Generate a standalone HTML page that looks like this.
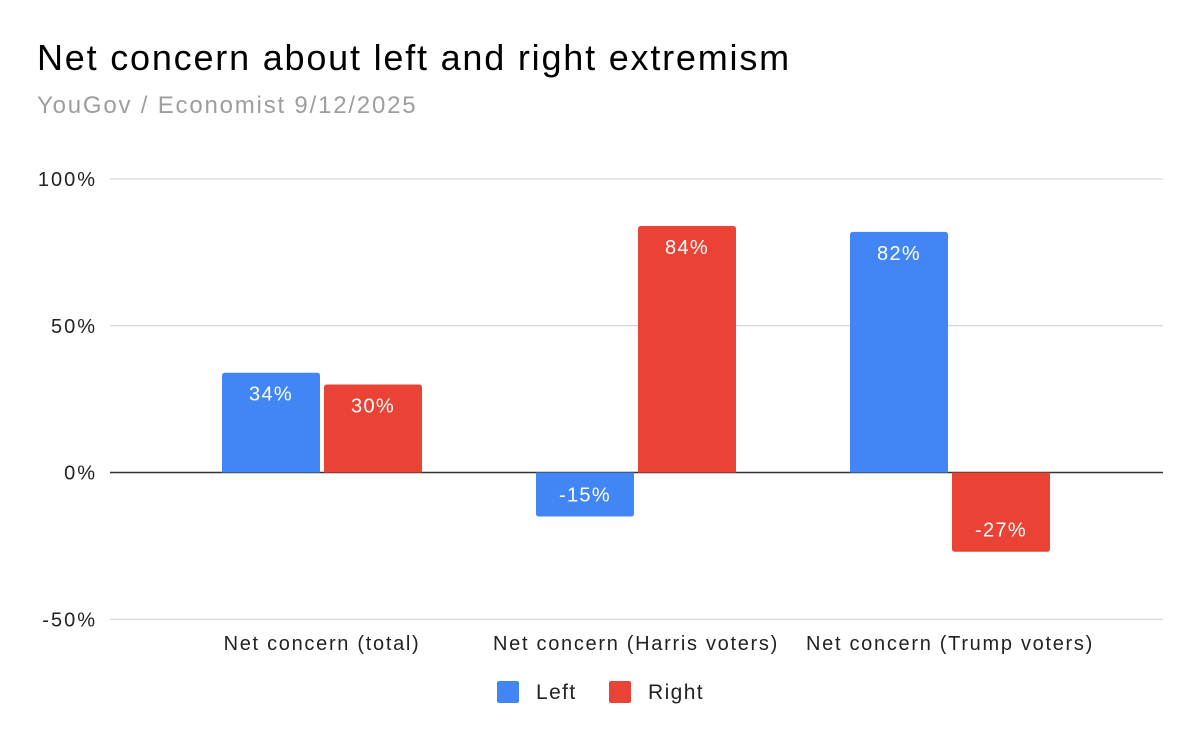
<!DOCTYPE html>
<html><head><meta charset="utf-8"><style>
html,body{margin:0;padding:0;background:#fff;}
svg{display:block;font-family:"Liberation Sans",Arial,sans-serif;}
</style></head><body>
<svg id="chart" width="1200" height="742" xmlns="http://www.w3.org/2000/svg">
<rect width="1200" height="742" fill="#fff"/>
<text x="37" y="70" font-size="36" letter-spacing="1.8" fill="#000">Net concern about left and right extremism</text>
<text x="37" y="113" font-size="24" letter-spacing="1.8" fill="#9e9e9e">YouGov / Economist 9/12/2025</text>
<g id="grid"></g><g id="bars"></g><g id="labels"></g>
<g>
<rect x="497" y="681" width="22" height="22" rx="2" fill="#4285f4"/>
<text x="536" y="699" font-size="21" letter-spacing="1.4" fill="#222">Left</text>
<rect x="609" y="681" width="22" height="22" rx="2" fill="#ea4335"/>
<text x="648" y="699" font-size="21" letter-spacing="1.4" fill="#222">Right</text>
</g>
</svg>
<script>
const categories=["Net concern (total)","Net concern (Harris voters)","Net concern (Trump voters)"];
const leftValues=[34,-15,82];
const rightValues=[30,84,-27];
const tickValues=[100,50,0,-50];
const tickLabels=["100%","50%","0%","-50%"];
const NS="http://www.w3.org/2000/svg";
const x0=110,x1=1163,groupW=314,firstCenter=322;
function y(v){return 472.5-v*2.935;}
function cx(i){return firstCenter+i*groupW;}
function mk(tag,attrs,parent){const e=document.createElementNS(NS,tag);for(const k in attrs)e.setAttribute(k,attrs[k]);parent.appendChild(e);return e;}
const grid=document.getElementById('grid'),bars=document.getElementById('bars'),labels=document.getElementById('labels');
tickValues.forEach((t,i)=>{
  const l=mk('line',{x1:x0,x2:x1,y1:y(t),y2:y(t),stroke:t===0?'#333':'#ccc','stroke-width':t===0?1.5:1},grid);
  
  
  const tx=mk('text',{x:97,y:y(t)+7,'font-size':20,'letter-spacing':2,'text-anchor':'end',fill:'#222'},grid);
  tx.textContent=tickLabels[i];
  
  
});
function bar(v,x,color,name){
  const top=Math.min(y(v),y(0)),h=Math.abs(y(v)-y(0));
  const r=mk('path',{},bars);
  const w=98,rr=3;
  let d;
  if(v>=0)d=`M${x},${top+h}V${top+rr}Q${x},${top} ${x+rr},${top}H${x+w-rr}Q${x+w},${top} ${x+w},${top+rr}V${top+h}Z`;
  else d=`M${x},${top}V${top+h-rr}Q${x},${top+h} ${x+rr},${top+h}H${x+w-rr}Q${x+w},${top+h} ${x+w},${top+h-rr}V${top}Z`;
  r.setAttribute('d',d);r.setAttribute('fill',color);
  
  
  const ly=v>=0?y(v)+28:y(v)-15;
  const t=mk('text',{x:x+w/2,y:ly,'font-size':20,'letter-spacing':1.3,'text-anchor':'middle',fill:'#fff'},labels);
  t.textContent=v+'%';
  
  
}
categories.forEach((c,i)=>{
  bar(leftValues[i],cx(i)-100,'#4285f4','bar-left-'+i);
  bar(rightValues[i],cx(i)+2,'#ea4335','bar-right-'+i);
  const t=mk('text',{x:cx(i),y:650,'font-size':20,'letter-spacing':1.7,'text-anchor':'middle',fill:'#222'},labels);
  t.textContent=c;
  
  
});
</script>
</body></html>
